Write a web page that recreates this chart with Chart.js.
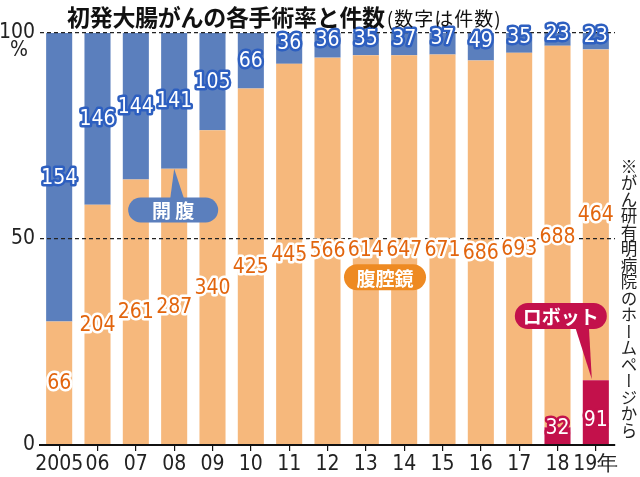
<!DOCTYPE html>
<html>
<head>
<meta charset="utf-8">
<script src="https://cdn.jsdelivr.net/npm/chart.js@4/dist/chart.umd.min.js"></script>
<style>
    body { margin: 0; background: #fff; }
    #wrap { position: relative; width: 640px; height: 477px; overflow: hidden; }
    #chart { position: absolute; left: 0; top: 0; }
    #title { position: absolute; left: 67px; top: -1px; font-family: "Noto Sans CJK JP"; font-weight: 700; font-size: 23px; color: #111; white-space: nowrap; letter-spacing: -0.3px; }
    #title span { font-weight: 400; font-size: 19px; letter-spacing: 1px; margin-left: 2px; }
    #note { position: absolute; left: 617px; top: 158px; writing-mode: vertical-rl; font-family: "Noto Sans CJK JP"; font-size: 16.5px; color: #222; white-space: nowrap; }
</style>
</head>
<body>
<div id="wrap">
    <canvas id="chart" width="640" height="477"></canvas>
    <div id="title">初発大腸がんの各手術率と件数<span>(数字は件数)</span></div>
    <div id="note">※がん研有明病院のホームページから</div>
</div>
<script>
const years = ["2005", "06", "07", "08", "09", "10", "11", "12", "13", "14", "15", "16", "17", "18", "19年"];
const openCounts = [154, 146, 144, 141, 105, 66, 36, 36, 35, 37, 37, 49, 35, 23, 23];
const lapCounts = [66, 204, 261, 287, 340, 425, 445, 566, 614, 647, 671, 686, 693, 688, 464];
const robotCounts = [0, 0, 0, 0, 0, 0, 0, 0, 0, 0, 0, 0, 0, 32, 91];
const yTicks = [0, 50, 100];

const BLUE = "#5b7fbd";
const ORANGE = "#f6b87c";
const RED = "#c3114b";
const NUM_FONT = "\"Liberation Sans Narrow\", \"DejaVu Sans Condensed\", Arial, sans-serif";

function toPercent(counts) {
    return counts.map((c, i) => {
        const total = openCounts[i] + lapCounts[i] + robotCounts[i];
        return c / total * 100;
    });
}

function pill(ctx, cx, cy, w, h, color, text, tip) {
    const r = h / 2;
    ctx.save();
    ctx.fillStyle = color;
    ctx.beginPath();
    ctx.moveTo(cx - w / 2 + r, cy - r);
    ctx.lineTo(cx + w / 2 - r, cy - r);
    ctx.arc(cx + w / 2 - r, cy, r, -Math.PI / 2, Math.PI / 2);
    ctx.lineTo(cx - w / 2 + r, cy + r);
    ctx.arc(cx - w / 2 + r, cy, r, Math.PI / 2, Math.PI * 1.5);
    ctx.closePath();
    ctx.fill();
    if (tip) {
        ctx.beginPath();
        ctx.moveTo(tip.bx - 7, tip.by);
        ctx.lineTo(tip.bx + 7, tip.by);
        ctx.lineTo(tip.x, tip.y);
        ctx.closePath();
        ctx.fill();
    }
    ctx.fillStyle = "#fff";
    ctx.font = "700 19px 'Noto Sans CJK JP'";
    ctx.textAlign = "center";
    ctx.textBaseline = "middle";
    ctx.fillText(text, cx, cy + 1);
    ctx.restore();
}

function outlined(ctx, text, x, y, fill, stroke, width) {
    ctx.lineWidth = width;
    ctx.strokeStyle = stroke;
    ctx.lineJoin = "round";
    ctx.strokeText(text, x, y);
    ctx.fillStyle = fill;
    ctx.fillText(text, x, y);
}

const labelPlugin = {
    id: "labels",
    afterDraw(chart) {
        const ctx = chart.ctx;
        const xs = chart.scales.x;
        const ys = chart.scales.y;
        const robotMeta = chart.getDatasetMeta(0).data;
        const lapMeta = chart.getDatasetMeta(1).data;
        const openMeta = chart.getDatasetMeta(2).data;

        ctx.save();
        ctx.font = "21px " + NUM_FONT;
        ctx.textAlign = "center";
        ctx.textBaseline = "middle";

        openMeta.forEach((bar, i) => {
            const h = bar.base - bar.y;
            let y = (bar.y + bar.base) / 2;
            if (h < 40) y -= 6;
            outlined(ctx, String(openCounts[i]), bar.x, y + 1, "#fff", "#2d5fc0", 5);
        });

        lapMeta.forEach((bar, i) => {
            const y = (bar.y + bar.base) / 2;
            outlined(ctx, String(lapCounts[i]), bar.x, y + 1, "#e2650e", "#fff", 5);
        });

        robotMeta.forEach((bar, i) => {
            if (!robotCounts[i]) return;
            const h = bar.base - bar.y;
            const y = h < 30 ? bar.y + 1 : (bar.y + bar.base) / 2 + 8;
            outlined(ctx, String(robotCounts[i]), bar.x, y, "#fff", RED, 5);
        });
        ctx.restore();

        // callouts
        const b08 = openMeta[3];
        pill(ctx, b08.x - 1, 210, 90, 25, BLUE, "開 腹",
            { x: b08.x, y: b08.base, bx: b08.x + 3, by: 199 });

        pill(ctx, xs.getPixelForValue(8.5), ys.getPixelForValue(40.7), 82, 26, "#ee8a22", "腹腔鏡");

        const r19 = robotMeta[14];
        pill(ctx, r19.x - 35, 316, 92, 26, RED, "ロボット",
            { x: r19.x - 4, y: r19.y - 1, bx: r19.x - 14, by: 326 });

        // percent sign under 100
        ctx.save();
        ctx.font = "21px " + NUM_FONT;
        ctx.fillStyle = "#222";
        ctx.textAlign = "center";
        ctx.textBaseline = "middle";
        ctx.fillText("%", 19, ys.getPixelForValue(100) + 18);
        ctx.restore();
    }
};

new Chart(document.getElementById("chart"), {
    type: "bar",
    data: {
        labels: years,
        datasets: [
            { label: "ロボット", data: toPercent(robotCounts), backgroundColor: RED },
            { label: "腹腔鏡", data: toPercent(lapCounts), backgroundColor: ORANGE },
            { label: "開腹", data: toPercent(openCounts), backgroundColor: BLUE }
        ]
    },
    options: {
        responsive: false,
        animation: false,
        layout: { padding: { top: 33, right: 25, left: 0, bottom: 0 } },
        datasets: {
            bar: { barPercentage: 0.68, categoryPercentage: 1, borderWidth: 0 }
        },
        plugins: {
            legend: { display: false },
            tooltip: { enabled: false }
        },
        scales: {
            x: {
                stacked: true,
                afterFit: s => { s.height = 32; },
                border: { color: "#111", width: 2, z: 1 },
                grid: { offset: false, drawOnChartArea: false, drawTicks: true, tickLength: 6, color: "#111", lineWidth: 1.2 },
                ticks: { color: "#222", padding: 1, maxRotation: 0, autoSkip: false, font: { family: NUM_FONT, size: 21 } }
            },
            y: {
                stacked: true,
                min: 0,
                max: 100,
                afterFit: s => { s.width = 40; },
                afterBuildTicks: s => { s.ticks = yTicks.map(v => ({ value: v })); },
                grid: {
                    z: 1,
                    drawTicks: false,
                    color: c => c.tick.value === 0 ? "rgba(0,0,0,0)" : "#222",
                    lineWidth: 1.2
                },
                border: { display: false, dash: [4, 3] },
                ticks: { color: "#222", padding: 5, font: { family: NUM_FONT, size: 21 } }
            }
        }
    },
    plugins: [labelPlugin]
});
</script>
</body>
</html>
